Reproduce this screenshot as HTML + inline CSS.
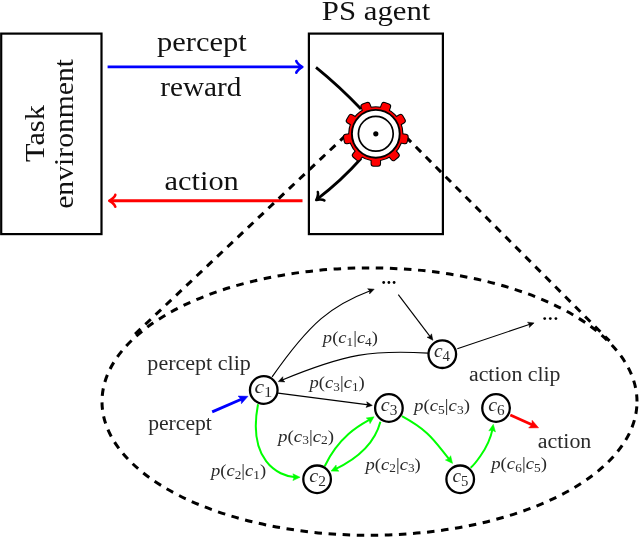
<!DOCTYPE html>
<html><head><meta charset="utf-8"><style>html,body{margin:0;padding:0;background:#fff;width:640px;height:539px;overflow:hidden}svg{display:block;will-change:transform}text{fill:#111}text.s{fill:#2a2a2a}</style></head>
<body>
<svg width="640" height="539" viewBox="0 0 640 539">
<rect width="640" height="539" fill="#fff"/>
<rect x="1.2" y="33.6" width="100.3" height="200.5" fill="none" stroke="#000" stroke-width="2.2"/>
<rect x="308.9" y="33.6" width="134" height="200.5" fill="none" stroke="#000" stroke-width="2.2"/>
<text id="Tpercept" x="157.07" y="51.1" font-family="Liberation Serif, serif" font-size="27" textLength="89.59" lengthAdjust="spacingAndGlyphs">percept</text>
<text id="Treward" x="160.22" y="96.25" font-family="Liberation Serif, serif" font-size="27" textLength="81.22" lengthAdjust="spacingAndGlyphs">reward</text>
<text id="Taction" x="164.54" y="190.3" font-family="Liberation Serif, serif" font-size="27" textLength="74.3" lengthAdjust="spacingAndGlyphs">action</text>
<text id="Tps" x="321.88" y="19.7" font-family="Liberation Serif, serif" font-size="27" textLength="108.55" lengthAdjust="spacingAndGlyphs">PS agent</text>
<text id="Ttask" transform="rotate(-90)" x="-162" y="44.2" font-family="Liberation Serif, serif" font-size="27" textLength="56.83" lengthAdjust="spacingAndGlyphs">Task</text>
<text id="Tenv" transform="rotate(-90)" x="-208.82" y="72.5" font-family="Liberation Serif, serif" font-size="27" textLength="149.93" lengthAdjust="spacingAndGlyphs">environment</text>
<path d="M107.6 66.9 L302 66.9" fill="none" stroke="#0000ff" stroke-width="2.9" />
<path d="M296.3 72.8 C296.7 70.59 301.1 67.27 302.3 66.9 C301.1 66.53 296.7 63.21 296.3 61" fill="none" stroke="#0000ff" stroke-width="2.61" stroke-linecap="round" stroke-linejoin="round"/>
<path d="M302.5 200.8 L109.6 200.8" fill="none" stroke="#ff0000" stroke-width="2.9" />
<path d="M115.3 194.9 C114.9 197.11 110.5 200.43 109.3 200.8 C110.5 201.17 114.9 204.49 115.3 206.7" fill="none" stroke="#ff0000" stroke-width="2.61" stroke-linecap="round" stroke-linejoin="round"/>
<path d="M637.0 401.6 A267.5 133.7 0 0 0 102.0 401.6 A267.5 133.7 0 0 0 637.0 401.6" fill="none" stroke="#000" stroke-width="3" stroke-dasharray="7.5 6.6" stroke-dashoffset="0.23"/>
<path d="M362.42 119.61 L131.5 337.44" fill="none" stroke="#000" stroke-width="3" stroke-dasharray="7.5 6.6" stroke-dashoffset="5.18"/>
<path d="M389.34 120.29 L609.5 340.92" fill="none" stroke="#000" stroke-width="3" stroke-dasharray="7.5 6.6" stroke-dashoffset="4.85"/>
<path d="M316 67.3 Q339.9 86.7 361 109" fill="none" stroke="#000" stroke-width="2.8" />
<path d="M361 158.5 Q341.5 180.5 317.5 198.9" fill="none" stroke="#000" stroke-width="2.8" />
<path d="M317.81 191.94 C318.72 193.8 316.98 198.98 316.2 200 C317.39 199.51 322.84 199.14 324.41 200.49" fill="none" stroke="#000" stroke-width="2.52" stroke-linecap="round" stroke-linejoin="round"/>
<g fill="#000" stroke="#000" stroke-width="2.1" stroke-linejoin="round"><circle cx="375.8" cy="133.8" r="26.6"/><rect x="371.6" y="101.9" width="8.4" height="8" rx="2" transform="rotate(180 375.8 133.8)"/><rect x="371.6" y="101.9" width="8.4" height="8" rx="2" transform="rotate(140 375.8 133.8)"/><rect x="371.6" y="101.9" width="8.4" height="8" rx="2" transform="rotate(100 375.8 133.8)"/><rect x="371.6" y="101.9" width="8.4" height="8" rx="2" transform="rotate(60 375.8 133.8)"/><rect x="371.6" y="101.9" width="8.4" height="8" rx="2" transform="rotate(20 375.8 133.8)"/><rect x="371.6" y="101.9" width="8.4" height="8" rx="2" transform="rotate(-20 375.8 133.8)"/><rect x="371.6" y="101.9" width="8.4" height="8" rx="2" transform="rotate(-60 375.8 133.8)"/><rect x="371.6" y="101.9" width="8.4" height="8" rx="2" transform="rotate(-100 375.8 133.8)"/><rect x="371.6" y="101.9" width="8.4" height="8" rx="2" transform="rotate(-140 375.8 133.8)"/></g>
<g fill="#ff0000" stroke="none" stroke-width="0" stroke-linejoin="round"><circle cx="375.8" cy="133.8" r="26.6"/><rect x="371.6" y="101.9" width="8.4" height="8" rx="2" transform="rotate(180 375.8 133.8)"/><rect x="371.6" y="101.9" width="8.4" height="8" rx="2" transform="rotate(140 375.8 133.8)"/><rect x="371.6" y="101.9" width="8.4" height="8" rx="2" transform="rotate(100 375.8 133.8)"/><rect x="371.6" y="101.9" width="8.4" height="8" rx="2" transform="rotate(60 375.8 133.8)"/><rect x="371.6" y="101.9" width="8.4" height="8" rx="2" transform="rotate(20 375.8 133.8)"/><rect x="371.6" y="101.9" width="8.4" height="8" rx="2" transform="rotate(-20 375.8 133.8)"/><rect x="371.6" y="101.9" width="8.4" height="8" rx="2" transform="rotate(-60 375.8 133.8)"/><rect x="371.6" y="101.9" width="8.4" height="8" rx="2" transform="rotate(-100 375.8 133.8)"/><rect x="371.6" y="101.9" width="8.4" height="8" rx="2" transform="rotate(-140 375.8 133.8)"/></g>
<circle cx="375.8" cy="133.8" r="23.9" fill="#fff" stroke="#000" stroke-width="1.9"/>
<circle cx="375.8" cy="133.8" r="17.4" fill="none" stroke="#000" stroke-width="1.7"/>
<circle cx="375.8" cy="133.8" r="2.6" fill="#000"/>
<path d="M272.1 376.9 C310.41 321.96 331.81 305.24 370.83 290.46" fill="none" stroke="#000" stroke-width="1.15" />
<path d="M374.2 289.2 L369.57 293.93 L369.71 290.89 L367.6 288.69Z" fill="#000" stroke="#000" stroke-width="0.5" stroke-linejoin="miter"/>
<path d="M428.1 353.1 C372.32 349.85 346.67 353.41 281.63 380.22" fill="none" stroke="#000" stroke-width="1.15" />
<path d="M278.3 381.6 L282.78 376.72 L282.74 379.77 L284.91 381.9Z" fill="#000" stroke="#000" stroke-width="0.5" stroke-linejoin="miter"/>
<path d="M398.3 294.7 Q415.6 317.5 430.72 337.43" fill="none" stroke="#000" stroke-width="1.15" />
<path d="M432.9 340.3 L427.04 337.21 L430 336.48 L431.5 333.83Z" fill="#000" stroke="#000" stroke-width="0.5" stroke-linejoin="miter"/>
<path d="M457.3 348.7 Q495.7 335.8 530.69 324.05" fill="none" stroke="#000" stroke-width="1.15" />
<path d="M534.1 322.9 L529.3 327.46 L529.55 324.43 L527.52 322.16Z" fill="#000" stroke="#000" stroke-width="0.5" stroke-linejoin="miter"/>
<path d="M278.1 393.1 Q325.2 399.25 368.73 404.93" fill="none" stroke="#000" stroke-width="1.15" />
<path d="M372.3 405.4 L365.99 407.4 L367.54 404.78 L366.71 401.85Z" fill="#000" stroke="#000" stroke-width="0.5" stroke-linejoin="miter"/>
<path d="M258 404.2 C247.5 459.76 277.55 476.24 295.78 477.26" fill="none" stroke="#00ff00" stroke-width="2" />
<path d="M300.1 477.2 L292.91 480.62 L294.1 477.22 L292.89 473.82Z" fill="#00ff00" stroke="#00ff00" stroke-width="0.5" stroke-linejoin="miter"/>
<path d="M324.7 466.2 C339.98 434.69 361.82 424.17 370.55 419.26" fill="none" stroke="#00ff00" stroke-width="2" />
<path d="M374.1 416.8 L370.03 423.64 L369.12 420.15 L366.23 418Z" fill="#00ff00" stroke="#00ff00" stroke-width="0.5" stroke-linejoin="miter"/>
<path d="M380.4 421.7 C374.01 446.04 354.12 460.14 334.92 469.29" fill="none" stroke="#00ff00" stroke-width="2" />
<path d="M331 471.1 L336.1 464.99 L336.44 468.58 L338.96 471.16Z" fill="#00ff00" stroke="#00ff00" stroke-width="0.5" stroke-linejoin="miter"/>
<path d="M401.9 416.2 C430.35 431.76 434.31 441.08 449.84 460.08" fill="none" stroke="#00ff00" stroke-width="2" />
<path d="M452.6 463.4 L445.39 460.02 L448.77 458.78 L450.63 455.69Z" fill="#00ff00" stroke="#00ff00" stroke-width="0.5" stroke-linejoin="miter"/>
<path d="M470.6 467.7 C471.61 466.98 488.37 450.39 492.64 428.57" fill="none" stroke="#00ff00" stroke-width="2" />
<path d="M493.3 424.3 L495.51 431.95 L492.35 430.22 L488.8 430.87Z" fill="#00ff00" stroke="#00ff00" stroke-width="0.5" stroke-linejoin="miter"/>
<path d="M510.3 415 Q524.45 421.4 533.68 425.57" fill="none" stroke="#ff0000" stroke-width="2.8" />
<path d="M538.6 427.8 L528.67 427.92 L531.77 424.71 L532.13 420.26Z" fill="#ff0000" stroke="#ff0000" stroke-width="0.5" stroke-linejoin="miter"/>
<path d="M212.2 411.9 Q230.1 404.1 243.05 398.46" fill="none" stroke="#0000ff" stroke-width="2.8" />
<path d="M248 396.3 L241.43 403.75 L241.12 399.3 L238.07 396.04Z" fill="#0000ff" stroke="#0000ff" stroke-width="0.5" stroke-linejoin="miter"/>
<circle cx="263.75" cy="390" r="13.8" fill="#fff" stroke="#000" stroke-width="2.3"/>
<text id="Tn1" class="s" x="254.5" y="393" font-family="Liberation Serif, serif" font-size="19" textLength="17.84" lengthAdjust="spacingAndGlyphs"><tspan font-style="italic">c</tspan><tspan font-size="14.5" dy="3.5">1</tspan></text>
<circle cx="317.1" cy="479.3" r="13.8" fill="#fff" stroke="#000" stroke-width="2.3"/>
<text id="Tn2" class="s" x="309.18" y="482.3" font-family="Liberation Serif, serif" font-size="19" textLength="16.67" lengthAdjust="spacingAndGlyphs"><tspan font-style="italic">c</tspan><tspan font-size="14.5" dy="3.5">2</tspan></text>
<circle cx="388.9" cy="408" r="13.8" fill="#fff" stroke="#000" stroke-width="2.3"/>
<text id="Tn3" class="s" x="380.86" y="411" font-family="Liberation Serif, serif" font-size="19" textLength="16.58" lengthAdjust="spacingAndGlyphs"><tspan font-style="italic">c</tspan><tspan font-size="14.5" dy="3.5">3</tspan></text>
<circle cx="442.3" cy="354.2" r="13.8" fill="#fff" stroke="#000" stroke-width="2.3"/>
<text id="Tn4" class="s" x="433.95" y="357.2" font-family="Liberation Serif, serif" font-size="19" textLength="16.04" lengthAdjust="spacingAndGlyphs"><tspan font-style="italic">c</tspan><tspan font-size="14.5" dy="3.5">4</tspan></text>
<circle cx="460.2" cy="479.3" r="13.8" fill="#fff" stroke="#000" stroke-width="2.3"/>
<text id="Tn5" class="s" x="452.55" y="482.3" font-family="Liberation Serif, serif" font-size="19" textLength="15.91" lengthAdjust="spacingAndGlyphs"><tspan font-style="italic">c</tspan><tspan font-size="14.5" dy="3.5">5</tspan></text>
<circle cx="496.05" cy="408" r="13.8" fill="#fff" stroke="#000" stroke-width="2.3"/>
<text id="Tn6" class="s" x="488.24" y="411" font-family="Liberation Serif, serif" font-size="19" textLength="16.47" lengthAdjust="spacingAndGlyphs"><tspan font-style="italic">c</tspan><tspan font-size="14.5" dy="3.5">6</tspan></text>
<circle cx="383.7" cy="282.5" r="1.4" fill="#000"/>
<circle cx="388.9" cy="282.5" r="1.4" fill="#000"/>
<circle cx="394.1" cy="282.5" r="1.4" fill="#000"/>
<circle cx="544.7" cy="318.6" r="1.4" fill="#000"/>
<circle cx="550.3" cy="318.6" r="1.4" fill="#000"/>
<circle cx="555.9" cy="318.6" r="1.4" fill="#000"/>
<text id="Tpclip" class="s" x="147.36" y="370.3" font-family="Liberation Serif, serif" font-size="20" textLength="103.47" lengthAdjust="spacingAndGlyphs">percept clip</text>
<text id="Tperc2" class="s" x="148.15" y="430.2" font-family="Liberation Serif, serif" font-size="20" textLength="63.76" lengthAdjust="spacingAndGlyphs">percept</text>
<text id="Taclip" class="s" x="468.98" y="380.6" font-family="Liberation Serif, serif" font-size="20" textLength="91.56" lengthAdjust="spacingAndGlyphs">action clip</text>
<text id="Tact2" class="s" x="537.69" y="447.5" font-family="Liberation Serif, serif" font-size="20" textLength="53.66" lengthAdjust="spacingAndGlyphs">action</text>
<text id="Tp14" class="s" x="322.89" y="343.2" font-family="Liberation Serif, serif" font-size="17.5" textLength="55.02" lengthAdjust="spacingAndGlyphs"><tspan font-style="italic">p</tspan>(<tspan font-style="italic">c</tspan><tspan font-size="12.5" dy="2.6">1</tspan><tspan dy="-2.6">|</tspan><tspan font-style="italic">c</tspan><tspan font-size="12.5" dy="2.6">4</tspan><tspan dy="-2.6">)</tspan></text>
<text id="Tp31" class="s" x="309.57" y="388.3" font-family="Liberation Serif, serif" font-size="17.5" textLength="55.17" lengthAdjust="spacingAndGlyphs"><tspan font-style="italic">p</tspan>(<tspan font-style="italic">c</tspan><tspan font-size="12.5" dy="2.6">3</tspan><tspan dy="-2.6">|</tspan><tspan font-style="italic">c</tspan><tspan font-size="12.5" dy="2.6">1</tspan><tspan dy="-2.6">)</tspan></text>
<text id="Tp21" class="s" x="211.08" y="476.1" font-family="Liberation Serif, serif" font-size="17.5" textLength="55.04" lengthAdjust="spacingAndGlyphs"><tspan font-style="italic">p</tspan>(<tspan font-style="italic">c</tspan><tspan font-size="12.5" dy="2.6">2</tspan><tspan dy="-2.6">|</tspan><tspan font-style="italic">c</tspan><tspan font-size="12.5" dy="2.6">1</tspan><tspan dy="-2.6">)</tspan></text>
<text id="Tp32" class="s" x="278.1" y="441.8" font-family="Liberation Serif, serif" font-size="17.5" textLength="56.04" lengthAdjust="spacingAndGlyphs"><tspan font-style="italic">p</tspan>(<tspan font-style="italic">c</tspan><tspan font-size="12.5" dy="2.6">3</tspan><tspan dy="-2.6">|</tspan><tspan font-style="italic">c</tspan><tspan font-size="12.5" dy="2.6">2</tspan><tspan dy="-2.6">)</tspan></text>
<text id="Tp23" class="s" x="365.57" y="469.5" font-family="Liberation Serif, serif" font-size="17.5" textLength="55.17" lengthAdjust="spacingAndGlyphs"><tspan font-style="italic">p</tspan>(<tspan font-style="italic">c</tspan><tspan font-size="12.5" dy="2.6">2</tspan><tspan dy="-2.6">|</tspan><tspan font-style="italic">c</tspan><tspan font-size="12.5" dy="2.6">3</tspan><tspan dy="-2.6">)</tspan></text>
<text id="Tp53" class="s" x="414.09" y="411.3" font-family="Liberation Serif, serif" font-size="17.5" textLength="55.83" lengthAdjust="spacingAndGlyphs"><tspan font-style="italic">p</tspan>(<tspan font-style="italic">c</tspan><tspan font-size="12.5" dy="2.6">5</tspan><tspan dy="-2.6">|</tspan><tspan font-style="italic">c</tspan><tspan font-size="12.5" dy="2.6">3</tspan><tspan dy="-2.6">)</tspan></text>
<text id="Tp65" class="s" x="491.27" y="469.3" font-family="Liberation Serif, serif" font-size="17.5" textLength="55.66" lengthAdjust="spacingAndGlyphs"><tspan font-style="italic">p</tspan>(<tspan font-style="italic">c</tspan><tspan font-size="12.5" dy="2.6">6</tspan><tspan dy="-2.6">|</tspan><tspan font-style="italic">c</tspan><tspan font-size="12.5" dy="2.6">5</tspan><tspan dy="-2.6">)</tspan></text>
</svg>
</body></html>
